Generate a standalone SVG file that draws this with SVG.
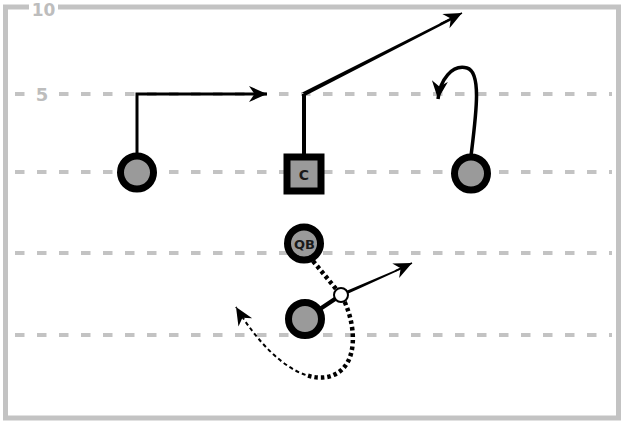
<svg xmlns="http://www.w3.org/2000/svg" width="621" height="423" viewBox="0 0 621 423">
<style>
.frame{fill:none;stroke:#c3c3c3;stroke-width:5}
.yard{fill:none;stroke:#c3c3c3;stroke-width:4;stroke-dasharray:9.5 12.5}
.lbl{font-family:"DejaVu Sans",sans-serif;font-weight:bold;fill:#bdbdbd;text-anchor:middle}
.player{fill:#9a9a9a;stroke:#000;stroke-width:7}
.ptxt{font-family:"DejaVu Sans",sans-serif;font-weight:bold;fill:#1a1a1a;text-anchor:middle}
.route{fill:none;stroke:#000;stroke-linecap:butt;stroke-linejoin:miter}
.taper{fill:#000;stroke:none}
</style>
<defs>
<marker id="arr" markerUnits="userSpaceOnUse" markerWidth="40" markerHeight="40" viewBox="-20 -20 40 40" refX="0" refY="0" orient="auto">
<path d="M0,0 L-18,-8 L-12.5,0 L-18,8 Z" fill="#000"/>
</marker>
</defs>
<g id="field">
<path class="frame" d="M29,7 H5.5 V418 H618.5 V7 H58"/>
<text class="lbl" x="43.5" y="16" font-size="17">10</text>
<line class="yard" x1="15" y1="94" x2="25" y2="94"/>
<line class="yard" x1="59" y1="94" x2="612" y2="94"/>
<text class="lbl" x="42" y="101" font-size="18">5</text>
<line class="yard" x1="15" y1="172" x2="612" y2="172"/>
<line class="yard" x1="15" y1="253" x2="612" y2="253"/>
<line class="yard" x1="15" y1="335" x2="612" y2="335"/>
</g>
<g id="connectors">
<path class="route" d="M137,156 V94 H267" stroke-width="3" marker-end="url(#arr)"/>
<path class="route" d="M304,157 V94" stroke-width="4"/>
<polygon class="taper" points="302.2,92.6 305.8,95.4 456.7,17.5 455.6,15.4"/>
<path class="route" d="M440,24 L462,13" stroke-width="1.5" marker-end="url(#arr)"/>
<path class="route" d="M471,156 C476,115 482,72 467,68 C452,64 440,80 438,99" stroke-width="3.5" marker-end="url(#arr)"/>
<path class="route" d="M305,319 L341,295" stroke-width="4.5"/>
<polygon class="taper" points="340.2,293.4 341.8,296.6 407.5,266.5 406.9,265.2"/>
<path class="route" d="M395,271 L412,263" stroke-width="1.5" marker-end="url(#arr)"/>
<path class="route" d="M313,261 L341,295 C356,320 362,370 327,377 C320.25,378.25 313,377.5 305.5,374.9" stroke-width="4.5" stroke-dasharray="3.5 3"/>
<path class="route" d="M305.5,374.9 C282.9,367.2 257.75,343 236,307" stroke-width="2" stroke-dasharray="4 3" marker-end="url(#arr)"/>
</g>
<g id="wr-left"><circle class="player" cx="137" cy="172.5" r="16.5"/></g>
<g id="center"><rect class="player" x="287" y="157" width="34" height="34"/><text class="ptxt" x="304" y="179.5" font-size="14">C</text></g>
<g id="wr-right"><circle class="player" cx="471" cy="173.5" r="16.5"/></g>
<g id="qb"><circle class="player" cx="304" cy="243.5" r="16.5"/><text class="ptxt" x="304.5" y="248.5" font-size="13">QB</text></g>
<g id="rb"><circle class="player" cx="305" cy="319" r="16.5"/></g>
<g id="handoff"><circle cx="341" cy="295" r="7" fill="#fff" stroke="#000" stroke-width="2"/></g>
</svg>
